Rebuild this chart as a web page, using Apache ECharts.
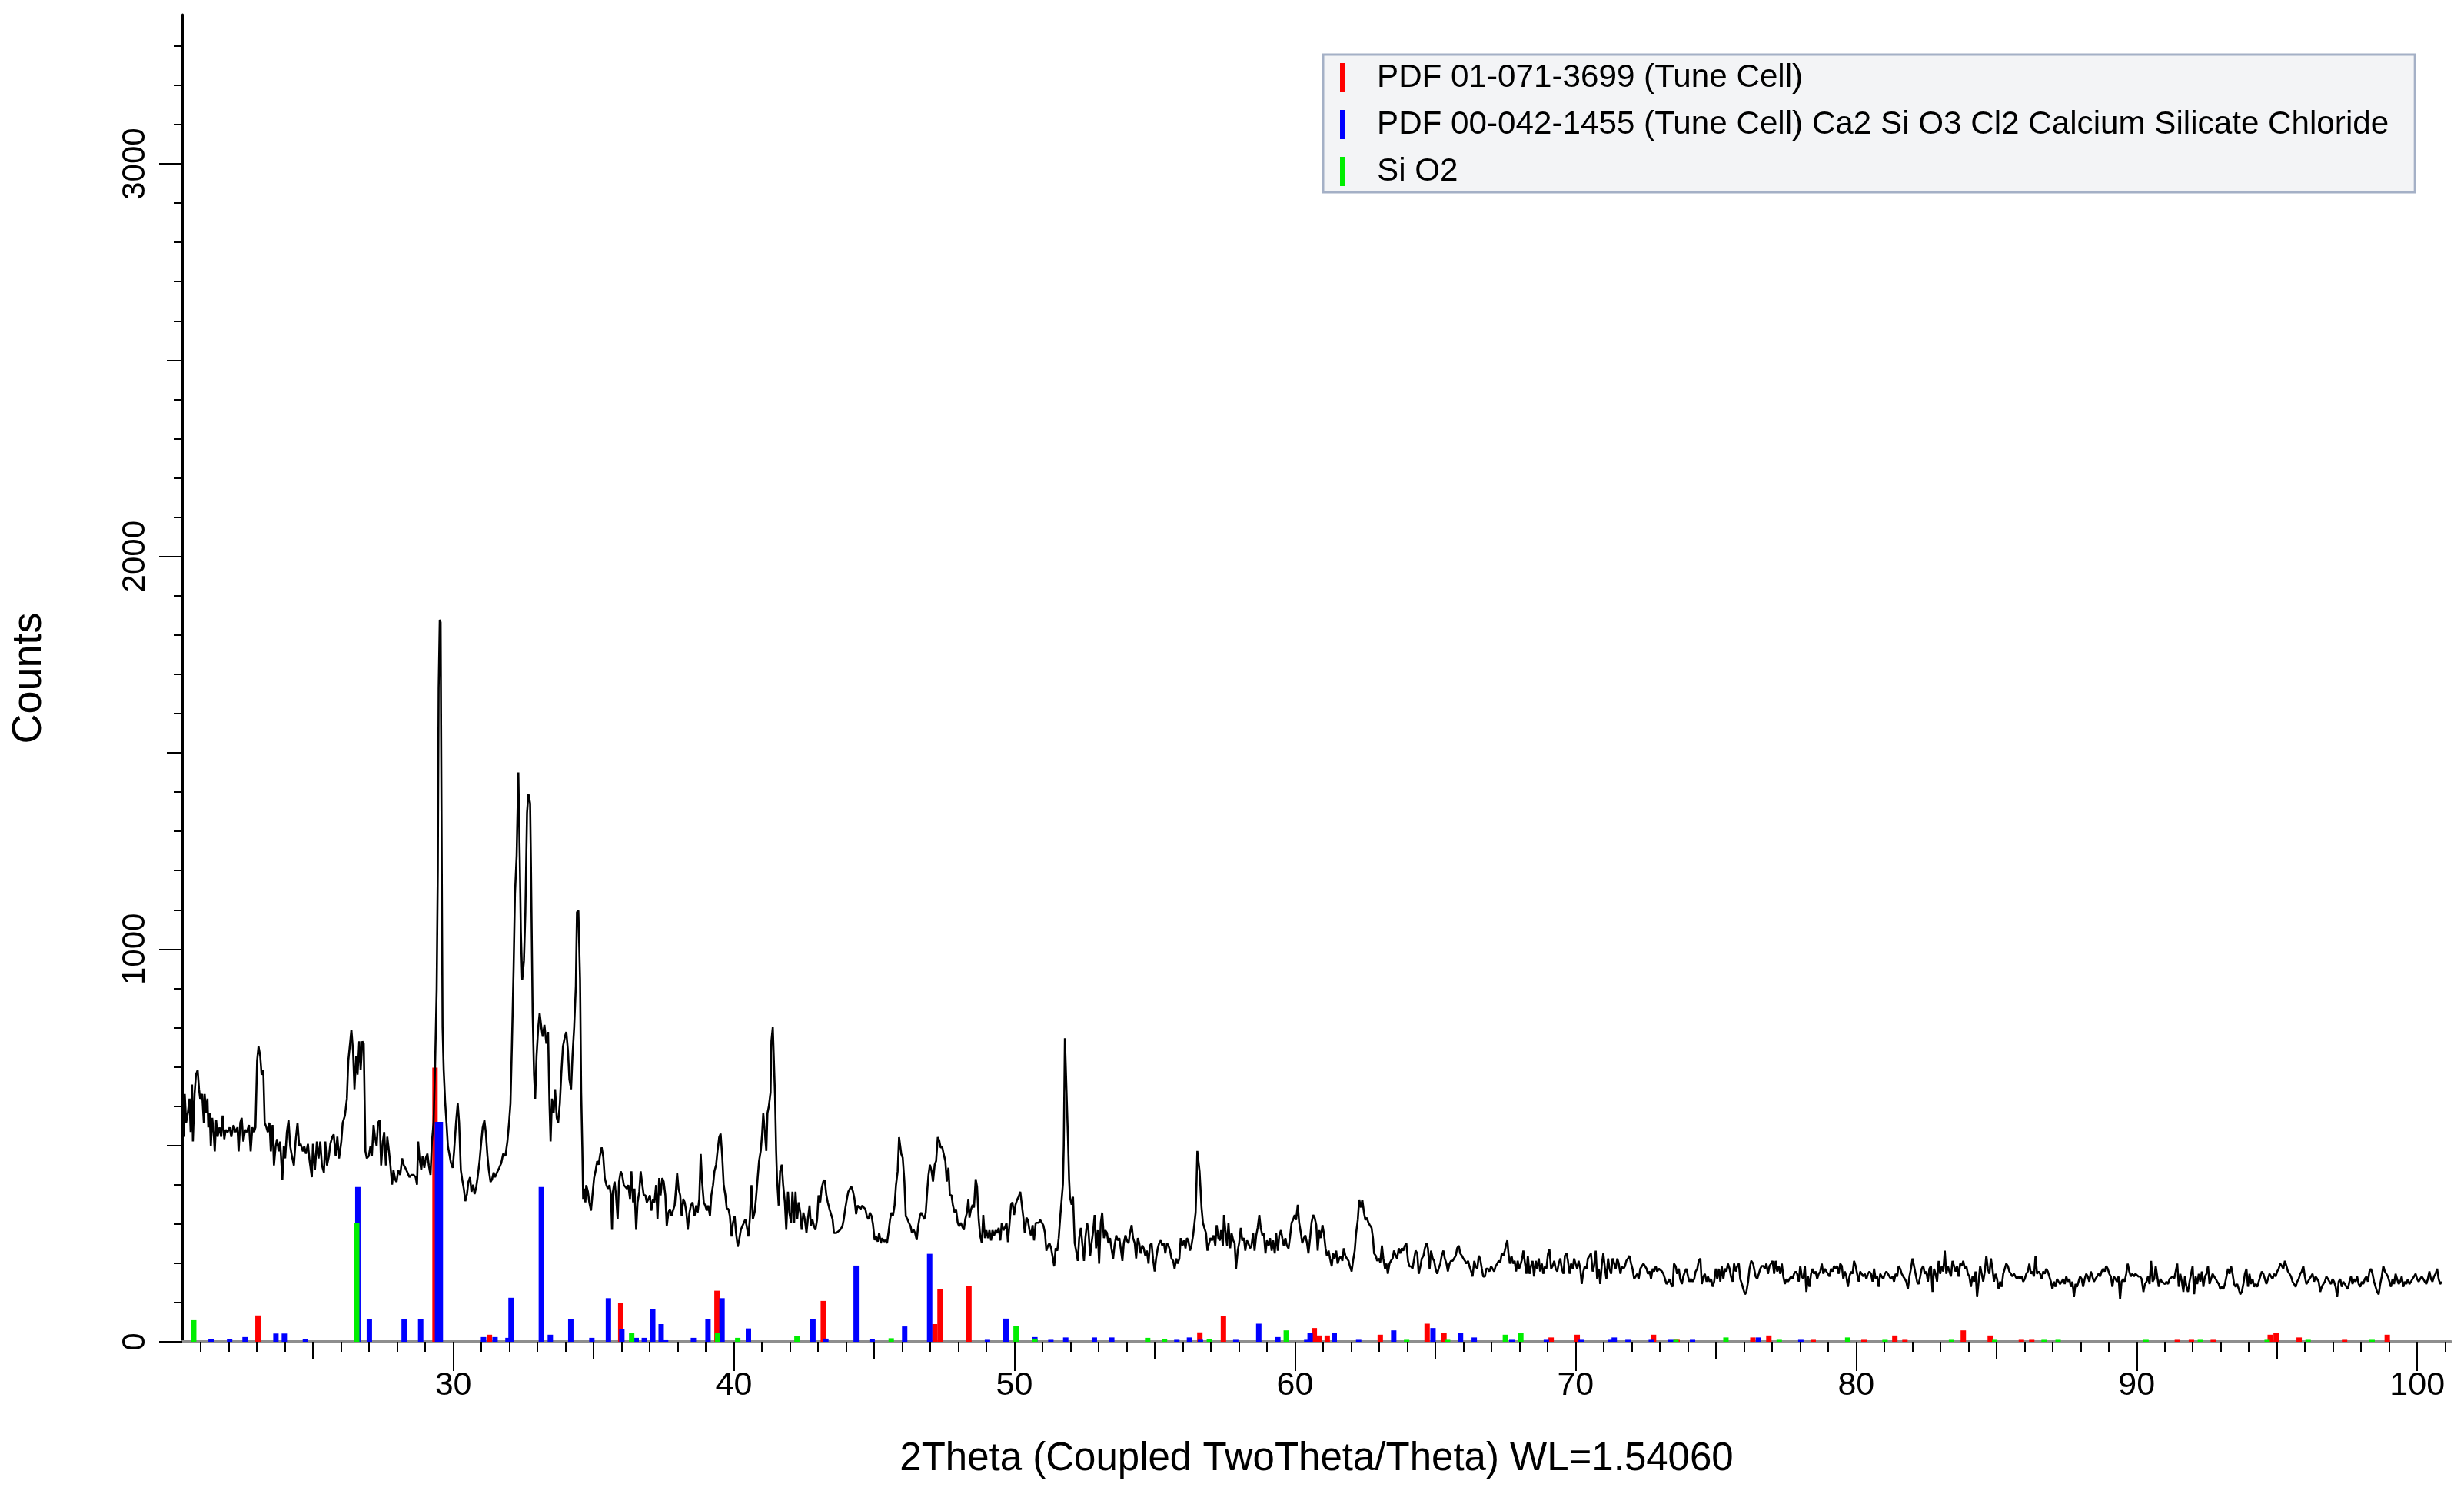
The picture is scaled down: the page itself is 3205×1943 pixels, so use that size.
<!DOCTYPE html>
<html><head><meta charset="utf-8">
<script src="https://cdn.jsdelivr.net/npm/echarts@6/dist/echarts.min.js"></script>
<style>html,body{margin:0;padding:0;background:#fff}#c{width:3205px;height:1943px}</style>
</head><body><div id="c"></div>
<script>
// ---- measured pattern (2Theta, Counts) ----
const scan20to34 = [[20.34,595],[20.39,522],[20.43,631],[20.48,558],[20.54,583],[20.60,619],[20.64,534],[20.69,655],[20.72,510],[20.78,631],[20.83,680],[20.89,692],[20.94,643],[20.98,619],[21.05,631],[21.11,558],[21.14,631],[21.19,583],[21.24,619],[21.27,546],[21.32,583],[21.36,498],[21.41,570],[21.46,534],[21.50,485],[21.55,564],[21.60,522],[21.67,546],[21.73,522],[21.78,576],[21.84,516],[21.89,540],[21.96,534],[22.03,546],[22.09,522],[22.17,552],[22.24,534],[22.31,546],[22.35,485],[22.41,558],[22.46,570],[22.52,510],[22.58,540],[22.64,534],[22.72,552],[22.78,485],[22.84,546],[22.90,534],[22.95,546],[23.01,716],[23.06,752],[23.12,728],[23.17,680],[23.23,692],[23.28,558],[23.34,546],[23.39,534],[23.45,558],[23.50,485],[23.56,552],[23.61,449],[23.67,498],[23.72,516],[23.78,485],[23.83,510],[23.91,413],[23.96,498],[24.01,467],[24.07,534],[24.13,564],[24.19,498],[24.25,473],[24.32,449],[24.38,510],[24.45,558],[24.51,498],[24.56,504],[24.64,485],[24.69,498],[24.75,479],[24.82,504],[24.88,461],[24.96,419],[25.00,504],[25.07,437],[25.14,510],[25.20,467],[25.26,510],[25.32,449],[25.39,431],[25.44,510],[25.50,449],[25.57,473],[25.62,504],[25.69,522],[25.74,528],[25.81,473],[25.87,522],[25.93,467],[26.01,510],[26.06,558],[26.14,576],[26.21,619],[26.26,716],[26.33,765],[26.37,795],[26.43,740],[26.48,643],[26.54,728],[26.59,680],[26.65,765],[26.70,692],[26.76,765],[26.81,759],[26.87,485],[26.92,467],[26.99,473],[27.05,498],[27.10,473],[27.16,552],[27.21,522],[27.27,498],[27.32,558],[27.38,564],[27.43,449],[27.49,510],[27.54,534],[27.60,449],[27.65,522],[27.71,485],[27.76,449],[27.82,400],[27.87,437],[27.93,413],[27.98,407],[28.04,437],[28.11,425],[28.18,467],[28.24,449],[28.29,443],[28.37,431],[28.44,419],[28.51,425],[28.59,425],[28.66,419],[28.71,400],[28.75,510],[28.80,467],[28.86,437],[28.91,473],[28.97,443],[29.02,467],[29.08,479],[29.13,449],[29.19,425],[29.24,510],[29.30,558],[29.35,692],[29.41,898],[29.45,1201],[29.48,1663],[29.52,1839],[29.55,1832],[29.58,1371],[29.62,801],[29.66,692],[29.71,613],[29.76,558],[29.81,498],[29.86,479],[29.92,455],[29.98,443],[30.03,485],[30.10,558],[30.16,607],[30.21,558],[30.27,437],[30.32,413],[30.38,388],[30.43,358],[30.49,376],[30.54,407],[30.60,419],[30.65,382],[30.71,400],[30.76,376],[30.82,394],[30.87,419],[30.94,461],[31.00,510],[31.05,546],[31.11,564],[31.16,534],[31.22,473],[31.27,437],[31.33,407],[31.38,413],[31.44,431],[31.49,419],[31.56,431],[31.64,443],[31.71,455],[31.78,479],[31.86,473],[31.93,510],[31.99,558],[32.04,607],[32.09,752],[32.15,947],[32.20,1141],[32.26,1238],[32.32,1450],[32.37,1238],[32.41,1044],[32.46,922],[32.52,971],[32.57,1092],[32.63,1347],[32.68,1396],[32.74,1371],[32.77,1214],[32.83,837],[32.88,680],[32.92,619],[32.97,728],[33.03,801],[33.08,837],[33.14,801],[33.19,777],[33.25,807],[33.32,759],[33.38,789],[33.43,607],[33.47,510],[33.52,619],[33.58,583],[33.63,643],[33.69,570],[33.74,558],[33.80,607],[33.85,680],[33.91,752],[33.98,777],[34.03,789],[34.09,740],[34.14,668],[34.20,643],[34.25,728],[34.31,801]];
const scan34to48 = [[34.37,906],[34.41,1094],[34.46,1098],[34.49,1011],[34.52,923],[34.56,635],[34.60,495],[34.63,364],[34.67,390],[34.71,355],[34.74,399],[34.80,382],[34.85,355],[34.91,334],[34.96,373],[35.02,417],[35.07,434],[35.13,460],[35.18,451],[35.24,478],[35.29,495],[35.35,469],[35.40,417],[35.46,399],[35.51,390],[35.57,399],[35.62,373],[35.66,285],[35.69,382],[35.75,408],[35.80,373],[35.86,312],[35.91,408],[35.97,434],[36.02,425],[36.08,399],[36.13,399],[36.19,390],[36.24,399],[36.30,364],[36.35,434],[36.41,355],[36.46,390],[36.52,285],[36.57,355],[36.63,382],[36.68,434],[36.74,399],[36.79,373],[36.85,373],[36.90,355],[36.96,364],[37.01,373],[37.06,334],[37.12,364],[37.17,355],[37.23,399],[37.28,312],[37.34,417],[37.39,373],[37.45,417],[37.50,408],[37.56,373],[37.61,294],[37.67,329],[37.72,338],[37.78,320],[37.83,334],[37.89,347],[37.94,390],[37.98,430],[38.03,390],[38.09,373],[38.14,320],[38.20,364],[38.25,355],[38.31,329],[38.36,285],[38.42,329],[38.47,347],[38.53,355],[38.60,320],[38.66,347],[38.71,329],[38.77,364],[38.82,478],[38.87,408],[38.93,355],[38.98,347],[39.04,334],[39.09,347],[39.15,320],[39.20,373],[39.26,399],[39.31,434],[39.37,451],[39.42,486],[39.48,521],[39.53,530],[39.59,469],[39.64,399],[39.70,373],[39.75,338],[39.81,338],[39.86,320],[39.92,268],[39.97,303],[40.03,320],[40.08,277],[40.14,242],[40.19,259],[40.25,285],[40.30,294],[40.36,303],[40.41,312],[40.46,294],[40.52,268],[40.57,312],[40.63,399],[40.68,312],[40.74,329],[40.79,364],[40.85,417],[40.90,460],[40.96,486],[41.01,530],[41.05,582],[41.10,539],[41.16,486],[41.20,582],[41.25,600],[41.31,635],[41.34,766],[41.39,801],[41.43,801],[41.47,626],[41.51,486],[41.54,417],[41.60,347],[41.65,434],[41.71,451],[41.76,399],[41.82,355],[41.87,285],[41.93,382],[41.98,329],[42.04,303],[42.09,382],[42.15,303],[42.20,382],[42.26,312],[42.31,355],[42.37,329],[42.42,285],[42.48,329],[42.53,312],[42.59,277],[42.64,312],[42.70,347],[42.75,294],[42.80,312],[42.86,294],[42.91,285],[42.97,312],[43.02,373],[43.08,355],[43.13,390],[43.19,408],[43.24,412],[43.30,373],[43.35,355],[43.41,338],[43.46,338],[43.52,312],[43.57,277],[43.65,277],[43.72,281],[43.79,285],[43.87,294],[43.92,312],[43.97,338],[44.03,364],[44.08,382],[44.14,390],[44.19,395],[44.25,382],[44.30,364],[44.36,325],[44.41,347],[44.47,342],[44.52,338],[44.58,347],[44.63,342],[44.69,338],[44.74,320],[44.80,312],[44.85,329],[44.91,320],[44.96,299],[45.02,259],[45.07,268],[45.13,255],[45.18,277],[45.24,251],[45.29,264],[45.35,255],[45.40,259],[45.46,251],[45.51,277],[45.57,312],[45.62,329],[45.67,320],[45.73,347],[45.78,399],[45.84,434],[45.89,521],[45.93,521],[45.97,478],[46.02,469],[46.08,408],[46.13,320],[46.19,312],[46.24,303],[46.30,294],[46.35,277],[46.41,285],[46.46,277],[46.52,259],[46.57,294],[46.63,320],[46.68,329],[46.74,320],[46.79,312],[46.84,329],[46.90,390],[46.94,425],[46.99,451],[47.05,434],[47.10,408],[47.16,451],[47.21,460],[47.27,521],[47.32,513],[47.37,495],[47.43,495],[47.48,478],[47.54,460],[47.59,408],[47.65,443],[47.70,373],[47.76,373],[47.81,347],[47.87,329],[47.92,338],[47.98,303],[48.03,294],[48.09,303],[48.14,294],[48.20,285],[48.25,312],[48.31,329],[48.36,364]];
const scan48to62 = [[48.40,316],[48.45,336],[48.51,349],[48.56,342],[48.62,414],[48.67,395],[48.73,310],[48.78,271],[48.84,251],[48.89,323],[48.95,264],[49.00,284],[49.06,264],[49.11,284],[49.17,258],[49.22,284],[49.28,271],[49.33,284],[49.39,277],[49.44,290],[49.50,258],[49.55,303],[49.61,284],[49.66,290],[49.72,303],[49.77,254],[49.83,303],[49.88,349],[49.93,355],[49.99,323],[50.04,349],[50.10,362],[50.15,369],[50.21,382],[50.26,382],[50.32,316],[50.37,277],[50.43,316],[50.48,310],[50.54,284],[50.59,271],[50.65,297],[50.70,258],[50.76,303],[50.81,303],[50.87,303],[50.92,310],[50.98,303],[51.03,297],[51.09,277],[51.14,232],[51.20,245],[51.25,251],[51.31,238],[51.36,218],[51.42,192],[51.47,238],[51.53,232],[51.58,264],[51.64,323],[51.69,323],[51.73,401],[51.76,499],[51.80,773],[51.84,773],[51.87,610],[51.91,519],[51.95,414],[51.98,369],[52.04,349],[52.09,369],[52.15,251],[52.20,232],[52.26,206],[52.31,264],[52.37,290],[52.42,251],[52.48,206],[52.53,264],[52.59,303],[52.64,284],[52.70,218],[52.75,251],[52.80,277],[52.86,323],[52.91,238],[52.97,284],[53.02,199],[53.08,303],[53.13,329],[53.19,264],[53.24,284],[53.30,277],[53.35,251],[53.41,264],[53.46,238],[53.52,212],[53.57,245],[53.63,271],[53.68,258],[53.74,264],[53.79,238],[53.85,206],[53.90,251],[53.96,271],[54.01,258],[54.07,251],[54.12,277],[54.18,297],[54.23,264],[54.29,251],[54.34,212],[54.40,264],[54.45,251],[54.50,225],[54.56,245],[54.61,238],[54.67,218],[54.72,232],[54.78,199],[54.83,245],[54.89,251],[54.94,212],[55.00,179],[55.05,212],[55.11,238],[55.16,251],[55.22,258],[55.27,245],[55.33,251],[55.38,225],[55.44,251],[55.49,245],[55.55,232],[55.60,212],[55.66,206],[55.71,186],[55.77,212],[55.82,199],[55.88,212],[55.93,264],[55.99,245],[56.04,258],[56.10,238],[56.15,264],[56.20,258],[56.26,232],[56.31,245],[56.37,271],[56.42,303],[56.46,329],[56.49,401],[56.52,486],[56.56,486],[56.60,434],[56.63,395],[56.67,342],[56.72,303],[56.77,290],[56.83,277],[56.88,232],[56.94,251],[56.99,264],[57.05,258],[57.10,271],[57.16,245],[57.21,297],[57.27,264],[57.32,258],[57.37,284],[57.43,245],[57.47,323],[57.52,284],[57.58,245],[57.63,303],[57.69,238],[57.74,277],[57.80,258],[57.85,251],[57.90,186],[57.96,232],[58.01,251],[58.07,290],[58.12,258],[58.18,264],[58.23,232],[58.29,258],[58.34,251],[58.40,238],[58.45,245],[58.51,277],[58.56,232],[58.62,271],[58.67,290],[58.73,323],[58.78,290],[58.84,271],[58.89,277],[58.95,225],[59.00,258],[59.06,245],[59.11,264],[59.17,232],[59.22,258],[59.28,225],[59.33,277],[59.39,232],[59.44,271],[59.50,284],[59.55,264],[59.60,245],[59.66,264],[59.71,245],[59.77,238],[59.82,264],[59.88,303],[59.93,310],[59.99,323],[60.04,310],[60.10,349],[60.15,303],[60.21,277],[60.26,251],[60.32,264],[60.37,271],[60.43,251],[60.48,225],[60.54,264],[60.59,303],[60.65,323],[60.70,316],[60.76,297],[60.81,232],[60.87,284],[60.92,264],[60.98,297],[61.03,277],[61.09,238],[61.14,218],[61.20,232],[61.25,212],[61.31,192],[61.36,225],[61.41,212],[61.47,232],[61.52,199],[61.58,212],[61.63,218],[61.69,206],[61.74,238],[61.80,218],[61.85,212],[61.91,206],[61.96,192],[62.02,179],[62.07,206],[62.13,232],[62.18,277],[62.24,310],[62.29,362],[62.35,342]];
const scan62to76 = [[62.40,362],[62.46,329],[62.51,310],[62.56,316],[62.62,303],[62.67,297],[62.73,290],[62.78,264],[62.82,225],[62.88,219],[62.93,206],[62.99,212],[63.04,202],[63.10,245],[63.15,212],[63.21,186],[63.26,199],[63.31,173],[63.37,199],[63.42,206],[63.48,212],[63.53,232],[63.59,219],[63.64,212],[63.70,238],[63.75,225],[63.81,238],[63.86,232],[63.92,245],[63.97,251],[64.03,206],[64.08,192],[64.14,192],[64.19,186],[64.25,212],[64.30,232],[64.36,225],[64.41,173],[64.47,192],[64.52,212],[64.58,219],[64.63,238],[64.69,251],[64.74,238],[64.80,186],[64.85,232],[64.91,212],[64.96,206],[65.01,186],[65.07,173],[65.12,186],[65.18,199],[65.23,219],[65.29,232],[65.34,212],[65.40,199],[65.45,179],[65.51,199],[65.56,206],[65.62,206],[65.67,212],[65.73,219],[65.78,238],[65.84,245],[65.89,225],[65.95,219],[66.00,212],[66.06,206],[66.11,199],[66.17,206],[66.22,192],[66.28,179],[66.33,166],[66.39,206],[66.44,192],[66.50,186],[66.55,219],[66.60,212],[66.66,186],[66.71,166],[66.77,166],[66.82,186],[66.88,186],[66.93,179],[66.99,192],[67.04,186],[67.10,179],[67.15,192],[67.21,199],[67.26,206],[67.32,202],[67.37,225],[67.43,219],[67.48,232],[67.54,251],[67.57,258],[67.61,225],[67.66,199],[67.72,219],[67.77,199],[67.83,206],[67.88,179],[67.94,206],[67.99,186],[68.05,199],[68.10,212],[68.14,232],[68.20,199],[68.25,173],[68.30,219],[68.36,173],[68.41,192],[68.47,206],[68.52,166],[68.58,206],[68.63,186],[68.69,212],[68.74,179],[68.80,199],[68.85,173],[68.91,192],[68.96,186],[69.02,225],[69.07,235],[69.13,186],[69.18,192],[69.24,206],[69.29,186],[69.35,179],[69.40,199],[69.46,212],[69.51,186],[69.57,173],[69.62,219],[69.68,225],[69.73,206],[69.79,173],[69.84,199],[69.90,186],[69.95,212],[70.00,199],[70.06,186],[70.11,206],[70.17,186],[70.22,147],[70.28,179],[70.33,192],[70.39,186],[70.44,212],[70.50,219],[70.55,225],[70.61,179],[70.66,192],[70.72,232],[70.77,160],[70.83,186],[70.88,147],[70.94,199],[70.99,225],[71.05,186],[71.10,160],[71.16,212],[71.21,186],[71.27,173],[71.32,212],[71.38,199],[71.43,186],[71.49,212],[71.54,199],[71.60,173],[71.65,192],[71.71,186],[71.76,192],[71.81,206],[71.87,212],[71.92,219],[71.98,199],[72.03,186],[72.09,160],[72.14,166],[72.20,173],[72.25,160],[72.31,186],[72.36,192],[72.42,199],[72.47,199],[72.53,186],[72.58,173],[72.64,179],[72.69,160],[72.75,186],[72.80,179],[72.86,192],[72.91,179],[72.97,186],[73.02,186],[73.08,179],[73.13,173],[73.19,160],[73.24,147],[73.30,153],[73.35,160],[73.40,147],[73.46,140],[73.51,199],[73.57,192],[73.62,173],[73.68,186],[73.73,160],[73.79,147],[73.84,166],[73.90,179],[73.95,186],[74.01,166],[74.06,153],[74.12,160],[74.17,153],[74.23,160],[74.28,179],[74.34,186],[74.39,206],[74.45,212],[74.50,147],[74.56,166],[74.61,173],[74.67,153],[74.72,166],[74.78,153],[74.83,160],[74.89,140],[74.94,153],[75.00,186],[75.05,160],[75.11,186],[75.16,153],[75.21,192],[75.27,160],[75.32,186],[75.38,179],[75.43,199],[75.49,186],[75.54,166],[75.60,153],[75.65,199],[75.71,179],[75.76,192],[75.82,199],[75.87,160],[75.93,147],[75.98,134],[76.04,121],[76.09,127],[76.15,153],[76.20,186],[76.26,206],[76.33,199]];
// high-angle part: counts read at the scan step
const scan76Start = 76.42, scan76Step = 0.0548;
const scan76Counts = [166,160,173,186,193,193,186,199,173,193,199,206,173,206,179,193,173,199,166,147,160,153,160,166,160,173,179,173,153,193,166,160,193,127,166,140,173,186,173,179,160,173,179,199,173,186,179,173,166,186,179,193,186,193,173,199,193,160,179,166,140,166,179,173,206,193,173,153,179,173,166,173,160,173,179,173,153,186,160,166,140,173,166,160,173,179,173,166,160,166,153,173,166,193,186,173,166,160,153,134,166,186,212,193,173,153,147,166,186,193,173,179,153,186,193,127,186,173,153,206,173,193,179,232,173,193,179,166,206,193,179,193,166,199,193,206,186,193,173,166,140,166,153,179,114,153,193,173,153,179,219,186,173,212,186,153,173,160,134,153,140,173,186,199,193,179,173,166,173,166,160,166,160,166,153,160,173,179,199,173,179,166,219,173,179,173,160,179,173,186,179,166,153,134,153,140,160,153,147,153,160,147,166,153,160,140,153,114,147,140,153,166,160,140,160,173,166,153,179,166,153,160,166,173,166,179,186,179,193,186,173,166,140,166,160,153,166,108,153,160,153,173,199,179,166,173,166,173,173,166,166,160];
const scan90Start = 90.24, scan90Step = 0.0548;
const scan90Counts = [127,147,153,166,147,206,153,160,193,166,140,160,153,150,147,153,147,160,160,166,160,179,199,140,173,153,127,166,140,127,153,173,193,121,166,147,173,153,179,140,166,173,193,147,160,173,166,160,153,147,134,140,134,147,166,186,173,193,173,147,140,147,134,121,127,147,173,186,140,173,147,160,140,147,140,153,166,179,173,160,147,160,173,166,160,173,166,179,186,199,193,186,206,193,179,173,166,153,147,140,153,160,173,179,193,166,147,153,160,166,173,153,166,160,153,127,140,147,153,166,160,153,147,160,153,140,114,153,160,140,153,147,140,134,153,166,147,160,153,166,147,140,153,147,160,166,153,179,186,173,153,140,127,121,147,166,193,179,173,166,153,140,160,147,173,160,147,153,166,140,153,147,160,147,153,160,166,173,160,153,160,166,160,153,147,160,179,160,153,166,173,186,160,147,153];

// ---- reference stick patterns (2Theta, Counts) ----
const pdf01_071_3699 = [[23.04,67],[29.35,698],[31.29,18],[35.97,99],[39.40,130],[43.19,104],[47.16,45],[47.35,135],[48.38,142],[56.61,24],[57.45,65],[60.69,35],[60.88,16],[61.15,16],[63.04,18],[64.71,46],[65.31,23],[69.13,11],[70.06,18],[72.78,18],[73.62,5],[76.32,11],[76.89,16],[78.47,5],[80.28,5],[81.38,16],[81.74,5],[83.82,29],[84.78,16],[85.89,5],[86.26,5],[91.45,5],[91.95,5],[92.73,5],[94.76,18],[94.97,23],[95.79,11],[97.41,5],[98.93,18]];
const pdf00_042_1455 = [[21.37,6],[22.03,6],[22.58,12],[23.68,21],[23.98,21],[24.73,6],[26.60,394],[27.01,57],[28.25,58],[28.84,58],[29.44,560],[29.54,560],[31.08,12],[31.49,12],[31.95,10],[32.06,112],[33.14,394],[33.46,18],[34.19,58],[34.94,10],[35.53,111],[36.01,32],[36.52,10],[36.81,10],[37.11,83],[37.41,45],[37.57,4],[38.56,10],[39.08,57],[39.58,111],[40.52,34],[42.82,57],[43.28,8],[44.36,194],[44.93,6],[46.09,39],[46.98,224],[49.04,5],[49.70,59],[50.73,12],[51.30,5],[51.83,11],[52.85,11],[53.47,11],[55.79,5],[56.24,11],[56.63,5],[57.89,5],[58.71,46],[59.39,12],[60.42,5],[60.54,23],[61.40,23],[62.27,5],[63.52,29],[64.92,35],[65.90,23],[66.39,11],[67.73,5],[68.96,5],[70.20,5],[71.25,5],[71.38,11],[71.87,5],[72.70,5],[73.40,5],[74.17,5],[76.52,11],[78.03,5]];
const siO2 = [[20.75,55],[26.56,303],[36.36,23],[39.42,23],[40.14,10],[42.25,15],[45.61,9],[50.06,41],[50.73,8],[54.75,10],[55.35,7],[56.95,6],[59.69,29],[63.98,5],[65.44,5],[67.50,18],[68.05,23],[73.58,5],[75.36,11],[77.26,5],[79.70,11],[81.03,5],[83.40,5],[84.94,5],[86.70,5],[87.20,5],[90.33,5],[92.27,5],[94.65,5],[96.11,5],[98.39,5]];

const seriesNames = ['PDF 01-071-3699 (Tune Cell)', 'PDF 00-042-1455 (Tune Cell) Ca2 Si O3 Cl2 Calcium Silicate Chloride', 'Si O2'];
const xTitle = '2Theta (Coupled TwoTheta/Theta) WL=1.54060';
const yTitle = 'Counts';
const xRange = [20.34, 101.2];
const yRange = [0, 3380];
const xMajor = [30,40,50,60,70,80,90,100];
const xMid = [25,35,45,55,65,75,85,95];
const xMinor = [21,22,23,24,26,27,28,29,31,32,33,34,36,37,38,39,41,42,43,44,46,47,48,49,51,52,53,54,56,57,58,59,61,62,63,64,66,67,68,69,71,72,73,74,76,77,78,79,81,82,83,84,86,87,88,89,91,92,93,94,96,97,98,99,101];
const yMajor = [0,1000,2000,3000];
const yMid = [500,1500,2500];
const yMinor = [100,200,300,400,600,700,800,900,1100,1200,1300,1400,1600,1700,1800,1900,2100,2200,2300,2400,2600,2700,2800,2900,3100,3200,3300];

// ---- build ----
const scanHigh = scan76Counts.map((c, i) => [+(scan76Start + i * scan76Step).toFixed(3), c])
  .concat(scan90Counts.map((c, i) => [+(scan90Start + i * scan90Step).toFixed(3), c]));
const scan = scan20to34.concat(scan34to48, scan48to62, scan62to76, scanHigh);

const FONT = "'Liberation Sans', Arial, Helvetica, sans-serif";
const chart = echarts.init(document.getElementById('c'), null, {renderer: 'canvas'});

function xAx(ticks, len, extra) {
  return Object.assign({
    type: 'value', min: xRange[0], max: xRange[1], position: 'bottom',
    axisLine: {show: false, onZero: false},
    axisTick: {show: true, customValues: ticks, length: len, lineStyle: {color: '#000', width: 2}},
    axisLabel: {show: false},
    splitLine: {show: false}
  }, extra || {});
}
function yAx(ticks, len, extra) {
  return Object.assign({
    type: 'value', min: yRange[0], max: yRange[1], position: 'left',
    axisLine: {show: false, onZero: false},
    axisTick: {show: true, customValues: ticks, length: len, lineStyle: {color: '#000', width: 2}},
    axisLabel: {show: false},
    splitLine: {show: false}
  }, extra || {});
}

chart.setOption({
  animation: false,
  backgroundColor: '#ffffff',
  grid: {left: 237, right: 17, top: 19, bottom: 198, containLabel: false},
  legend: {
    show: true, orient: 'vertical', left: 1721, top: 71,
    data: seriesNames, selectedMode: false,
    icon: 'rect', itemWidth: 7, itemHeight: 38, itemGap: 19,
    backgroundColor: '#f3f4f6', borderColor: '#a4b0c6', borderWidth: 3,
    padding: [9, 34, 6, 22],
    textStyle: {fontSize: 42.2, color: '#000', fontFamily: FONT, padding: [0, 0, 0, 36], lineHeight: 38}
  },
  xAxis: [
    xAx(xMajor, 38, {
      axisLine: {show: true, onZero: false, lineStyle: {color: '#8e8e8e', width: 4}},
      axisLabel: {show: true, customValues: xMajor, margin: 36, fontSize: 43, color: '#000', fontFamily: FONT},
      name: xTitle, nameLocation: 'middle', nameGap: 127,
      nameTextStyle: {fontSize: 51, color: '#000', fontFamily: FONT}
    }),
    xAx(xMid, 23),
    xAx(xMinor, 13)
  ],
  yAxis: [
    yAx(yMajor, 30, {
      axisLine: {show: true, onZero: false, lineStyle: {color: '#000', width: 3}},
      axisLabel: {show: true, customValues: yMajor, rotate: 90, margin: 40, fontSize: 42, color: '#000', fontFamily: FONT,
        formatter: function (v) { return String(v); }},
      name: yTitle, nameLocation: 'middle', nameGap: 172, nameRotate: 90,
      nameTextStyle: {fontSize: 54, color: '#000', fontFamily: FONT}
    }),
    yAx(yMid, 20),
    yAx(yMinor, 11)
  ],
  series: [
    {name: seriesNames[0], type: 'bar', data: pdf01_071_3699, barWidth: 7, barGap: '-100%', itemStyle: {color: '#ff0000'}, z: 2, silent: true},
    {name: seriesNames[1], type: 'bar', data: pdf00_042_1455, barWidth: 7, barGap: '-100%', itemStyle: {color: '#0000ff'}, z: 2, silent: true},
    {name: seriesNames[2], type: 'bar', data: siO2, barWidth: 7, barGap: '-100%', itemStyle: {color: '#00ee00'}, z: 2, silent: true},
    {name: 'scan', type: 'line', data: scan, showSymbol: false, symbol: 'none', lineStyle: {color: '#000', width: 2.6}, z: 3, silent: true}
  ]
});
</script>
</body></html>
